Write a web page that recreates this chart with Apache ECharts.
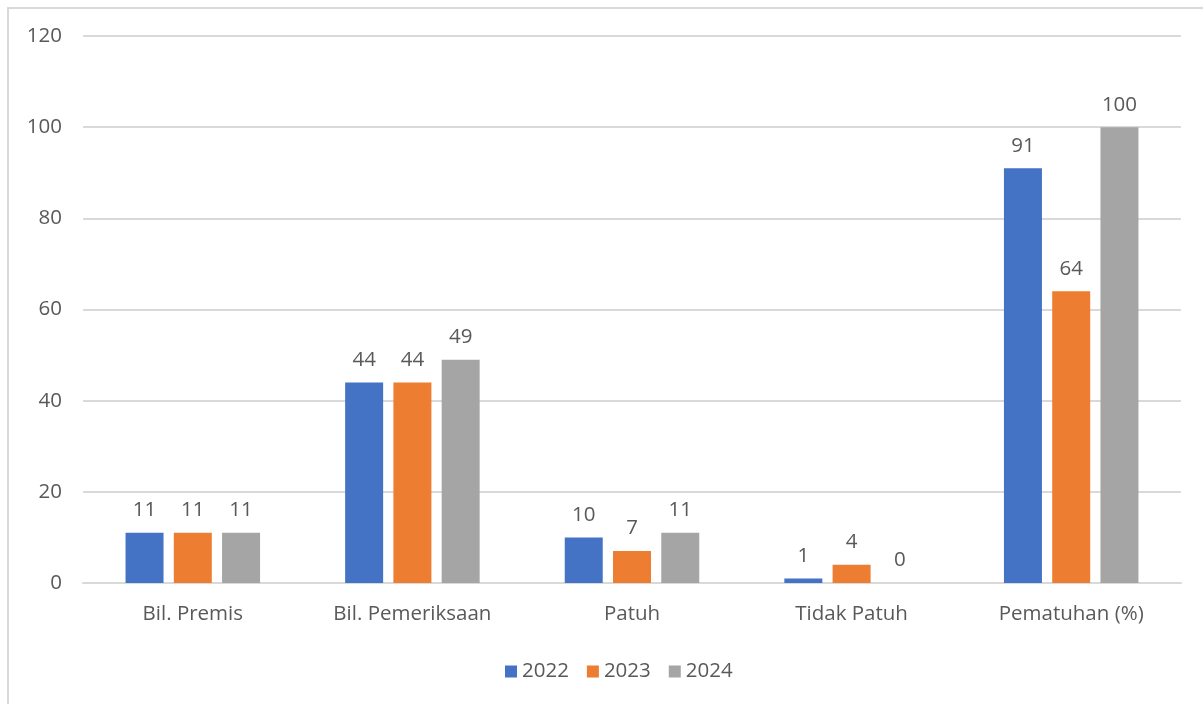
<!DOCTYPE html>
<html>
<head>
<meta charset="utf-8">
<title>Pematuhan Premis 2022-2024</title>
<script src="https://cdn.jsdelivr.net/npm/echarts@6/dist/echarts.min.js"></script>
<style>
  html, body { margin: 0; padding: 0; background: #ffffff; }
  #chart { width: 1203px; height: 704px; }
</style>
</head>
<body>
<div id="chart"></div>
<script>
// Categories and yearly values
const categories = ['Bil. Premis', 'Bil. Pemeriksaan', 'Patuh', 'Tidak Patuh', 'Pematuhan (%)'];
const years = ['2022', '2023', '2024'];
const values2022 = [11, 44, 10, 1, 91];
const values2023 = [11, 44, 7, 4, 64];
const values2024 = [11, 49, 11, 0, 100];
const yTicks = { min: 0, max: 120, interval: 20 };

const colors = ['#4472C4', '#ED7D31', '#A5A5A5'];
const textColor = '#595959';
const fontFamily = '"Open Sans", "Noto Sans", sans-serif';
const fontSize = 20.5;

const chart = echarts.init(document.getElementById('chart'), null, { renderer: 'canvas' });

function makeSeries(name, data, color) {
  return {
    name: name,
    type: 'bar',
    data: data,
    barWidth: 38,
    barGap: '27%',
    itemStyle: { color: color },
    label: {
      show: true,
      position: 'top',
      distance: 12,
      color: textColor,
      fontSize: fontSize,
      fontFamily: fontFamily
    },
    emphasis: { disabled: true }
  };
}

chart.setOption({
  animation: false,
  color: colors,
  grid: { left: 83, right: 22, top: 36, bottom: 121, containLabel: false },
  graphic: [
    {
      type: 'polyline',
      shape: { points: [[8, 704], [8, 8], [1203, 8]] },
      style: { stroke: '#d9d9d9', lineWidth: 2, fill: null },
      silent: true
    }
  ],
  legend: {
    data: years,
    top: 656,
    left: 500,
    icon: 'rect',
    itemWidth: 12,
    itemHeight: 12,
    itemGap: 18,
    textStyle: { color: textColor, fontSize: fontSize, fontFamily: fontFamily }
  },
  xAxis: {
    type: 'category',
    data: categories,
    axisLine: { show: true, lineStyle: { color: '#d9d9d9', width: 2 } },
    axisTick: { show: false },
    axisLabel: { color: textColor, fontSize: fontSize, fontFamily: fontFamily, margin: 21 }
  },
  yAxis: {
    type: 'value',
    min: yTicks.min,
    max: yTicks.max,
    interval: yTicks.interval,
    axisLine: { show: false },
    axisTick: { show: false },
    splitLine: { lineStyle: { color: '#d9d9d9', width: 2 } },
    axisLabel: { color: textColor, fontSize: fontSize, fontFamily: fontFamily, margin: 21 }
  },
  series: [
    makeSeries(years[0], values2022, colors[0]),
    makeSeries(years[1], values2023, colors[1]),
    makeSeries(years[2], values2024, colors[2])
  ]
});
</script>
</body>
</html>
